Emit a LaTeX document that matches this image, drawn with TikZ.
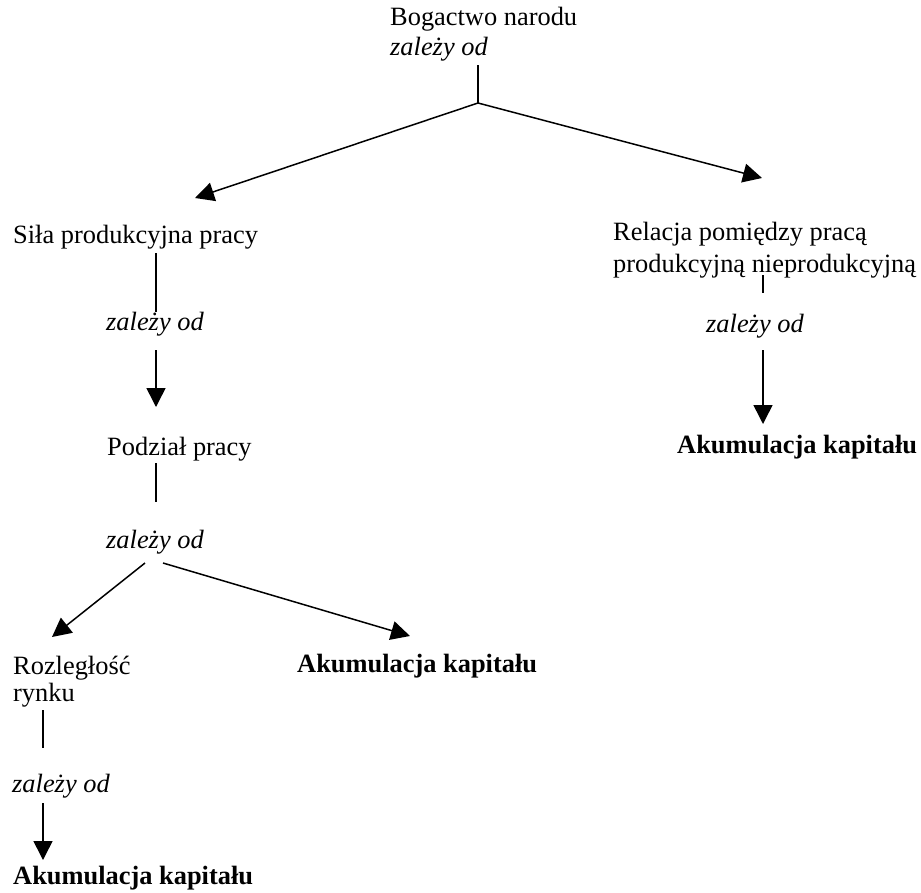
\documentclass[tikz,border=0pt]{standalone}
\usepackage{fontspec}
\setmainfont{Liberation Serif}
\usetikzlibrary{arrows.meta}
\begin{document}
\begin{tikzpicture}[x=1pt,y=-1pt,
 txt/.style={inner sep=0pt, anchor=base west, font=\fontsize{26.4}{30}\selectfont},
 itl/.style={txt, font=\fontsize{26.4}{30}\selectfont\itshape},
 bld/.style={txt, font=\fontsize{26.4}{30}\selectfont\bfseries},
 ln/.style={line width=1.5pt},
 arr/.style={ln, -{Triangle[length=19pt,width=19pt]}}]
\useasboundingbox (0,0) rectangle (921,892);
% top
\node[txt] (bog) at (390,25) {Bogactwo narodu};
\node[itl] (z1) at (390,55) {zależy od};
\coordinate (a1) at (478,65);
\coordinate (a2) at (478,103);
\coordinate (a3) at (195,198);
\coordinate (a4) at (762,178);
\draw[ln] (a1) -- (a2);
\draw[arr] (a2) -- (a3);
\draw[arr] (a2) -- (a4);
% left branch
\node[txt] (sila) at (13,243) {Siła produkcyjna pracy};
\coordinate (b1) at (156,253);
\coordinate (b2) at (156,312);
\draw[ln] (b1) -- (b2);
\node[itl] (z2) at (106,330) {zależy od};
\coordinate (b3) at (156,350);
\coordinate (b4) at (156,407);
\draw[arr] (b3) -- (b4);
\node[txt] (podz) at (107,455) {Podział pracy};
\coordinate (c1) at (156,463);
\coordinate (c2) at (156,502);
\draw[ln] (c1) -- (c2);
\node[itl] (z3) at (106,548) {zależy od};
\coordinate (c3) at (145,563);
\coordinate (c4) at (52,637);
\coordinate (c5) at (163,563);
\coordinate (c6) at (410,636);
\draw[arr] (c3) -- (c4);
\draw[arr] (c5) -- (c6);
\node[txt] (roz1) at (13,674) {Rozległość};
\node[txt] (roz2) at (13,701) {rynku};
\node[bld] (ak2) at (297,672) {Akumulacja kapitału};
\coordinate (d1) at (43,710);
\coordinate (d2) at (43,748);
\draw[ln] (d1) -- (d2);
\node[itl] (z4) at (12,792) {zależy od};
\coordinate (d3) at (43,803);
\coordinate (d4) at (43,860);
\draw[arr] (d3) -- (d4);
\node[bld] (ak3) at (13,884) {Akumulacja kapitału};
% right branch
\node[txt] (rel1) at (613,240) {Relacja pomiędzy pracą};
\node[txt] (rel2) at (613,272) {produkcyjną nieprodukcyjną};
\coordinate (e1) at (763,275);
\coordinate (e2) at (763,293);
\draw[ln] (e1) -- (e2);
\node[itl] (z5) at (706,332) {zależy od};
\coordinate (e3) at (763,350);
\coordinate (e4) at (763,424);
\draw[arr] (e3) -- (e4);
\node[bld] (ak1) at (677,453) {Akumulacja kapitału};
\end{tikzpicture}
\end{document}
